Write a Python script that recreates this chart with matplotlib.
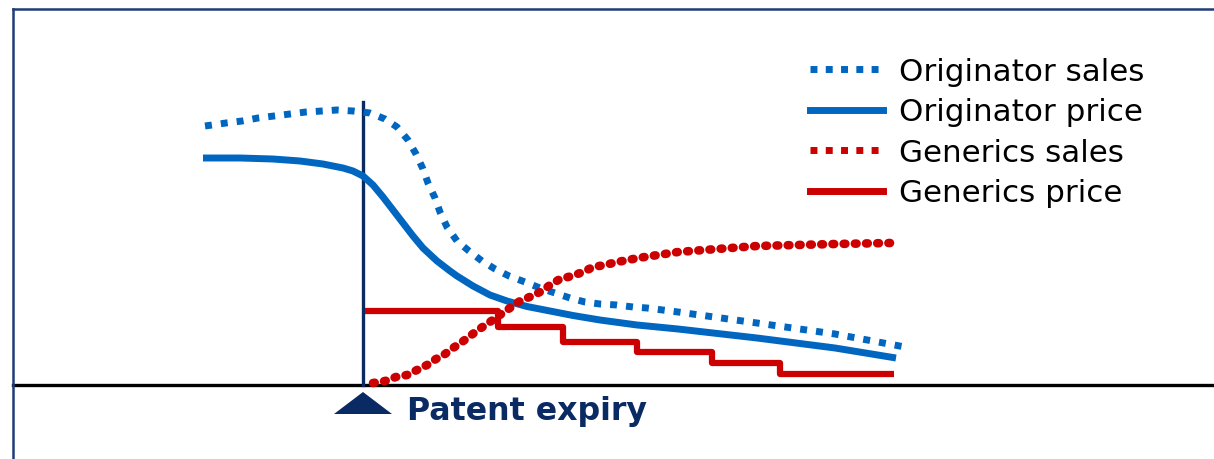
import matplotlib
matplotlib.use("Agg")
import matplotlib.pyplot as plt
from matplotlib.lines import Line2D
from matplotlib.patches import Polygon

# time in years relative to patent expiry, index values above the baseline
orig_sales_t = [-1.58, -1.37, -1.21, -1.05, -0.89, -0.73, -0.57, -0.41, -0.26, -0.10,
                0.07, 0.22, 0.34, 0.45, 0.53, 0.60, 0.65, 0.72, 0.77, 0.84,
                0.94, 1.06, 1.19, 1.32, 1.46, 1.62, 1.77, 1.92, 2.07, 2.22,
                2.37, 2.54, 2.70, 2.84, 3.15, 3.94, 4.72, 5.42]
orig_sales = [2.59, 2.62, 2.64, 2.67, 2.69, 2.71, 2.73, 2.74, 2.75, 2.74,
              2.72, 2.66, 2.58, 2.45, 2.31, 2.16, 2.02, 1.87, 1.73, 1.58,
              1.44, 1.34, 1.24, 1.16, 1.09, 1.03, 0.97, 0.92, 0.87, 0.83,
              0.81, 0.80, 0.78, 0.77, 0.73, 0.62, 0.51, 0.38]

orig_price_t = [-1.60, -1.23, -0.90, -0.63, -0.40, -0.20, -0.10, 0.00, 0.10, 0.20,
                0.30, 0.40, 0.50, 0.60, 0.74, 0.87, 0.94, 1.10, 1.27, 1.44,
                1.64, 1.87, 2.10, 2.37, 2.74, 3.15, 3.94, 4.72, 5.33]
orig_price = [2.27, 2.27, 2.26, 2.24, 2.21, 2.17, 2.14, 2.09, 2.00, 1.88,
              1.75, 1.62, 1.49, 1.37, 1.24, 1.14, 1.09, 0.99, 0.90, 0.84,
              0.785, 0.74, 0.695, 0.65, 0.60, 0.56, 0.47, 0.37, 0.27]

gen_sales_t = [0.10, 0.22, 0.33, 0.44, 0.54, 0.64, 0.73, 0.82, 0.90, 0.99,
               1.07, 1.15, 1.24, 1.34, 1.44, 1.57, 1.69, 1.79, 1.87, 1.97,
               2.09, 2.20, 2.30, 2.42, 2.54, 2.65, 2.75, 3.15, 3.54, 3.94,
               4.33, 4.72, 5.27]
gen_sales = [0.02, 0.04, 0.08, 0.10, 0.15, 0.20, 0.26, 0.31, 0.37, 0.43,
             0.49, 0.55, 0.61, 0.68, 0.75, 0.84, 0.89, 0.94, 1.00, 1.06,
             1.09, 1.13, 1.18, 1.20, 1.23, 1.25, 1.27, 1.33, 1.36, 1.39,
             1.40, 1.41, 1.42]

gen_price_t = [0.02, 1.35, 2.00, 2.74, 3.49, 4.17, 5.31]
gen_price = [0.74, 0.58, 0.43, 0.33, 0.22, 0.11]

labels = ["Originator sales", "Originator price", "Generics sales", "Generics price"]
expiry_t = 0.0

blue = "#0066c0"
red = "#cc0000"
navy = "#0a2a64"

fig = plt.figure(figsize=(12.14, 4.6), dpi=100)
ax = fig.add_axes([0, 0, 1, 1])
ax.set_xlim(-3.63, 8.51)
ax.set_ylim(-0.74, 3.86)
ax.axis("off")

# frame around the slide
fig.add_artist(Line2D([13 / 1214, 13 / 1214], [0, 1 - 10 / 460], color="#1f3d78", lw=1.8))
fig.add_artist(Line2D([13 / 1214, 1], [1 - 10 / 460, 1 - 10 / 460], color="#1f3d78", lw=1.8))

# baseline and expiry marker
ax.axhline(0, xmin=13 / 1214, xmax=1, color="black", lw=2.4, zorder=2)
ax.plot([expiry_t, expiry_t], [0, 2.83], color=navy, lw=2.4, zorder=3)
ax.add_patch(Polygon([[expiry_t - 0.29, -0.29], [expiry_t + 0.29, -0.29], [expiry_t, -0.07]],
                     closed=True, color=navy, lw=0))
ax.text(expiry_t + 0.44, -0.26, "Patent expiry", color=navy, fontsize=22.8,
        fontweight="bold", va="center", ha="left")

ax.plot(orig_sales_t, orig_sales, color=blue, lw=5, dashes=(1, 1.3),
        dash_capstyle="butt", zorder=4)
ax.plot(orig_price_t, orig_price, color=blue, lw=5, solid_capstyle="butt",
        solid_joinstyle="round", zorder=4)
ax.plot(gen_sales_t, gen_sales, color=red, lw=6.2, dashes=(0.2, 1.1),
        dash_capstyle="round", zorder=5)
ax.step(gen_price_t, gen_price + [gen_price[-1]], where="post", color=red, lw=4.5,
        solid_joinstyle="round", solid_capstyle="butt", zorder=3)

handles = [
    Line2D([], [], color=blue, lw=5, dashes=(1, 1.2), dash_capstyle="butt"),
    Line2D([], [], color=blue, lw=5),
    Line2D([], [], color=red, lw=5, dashes=(1, 1.2), dash_capstyle="butt"),
    Line2D([], [], color=red, lw=5),
]
ax.legend(handles, labels, loc="upper left", bbox_to_anchor=(810 / 1214, 1 - 58 / 460),
          bbox_transform=fig.transFigure, frameon=False, fontsize=22.3,
          handlelength=2.36, handletextpad=0.5, labelspacing=0.37,
          borderpad=0, borderaxespad=0)

fig.savefig("out.png", dpi=100)
